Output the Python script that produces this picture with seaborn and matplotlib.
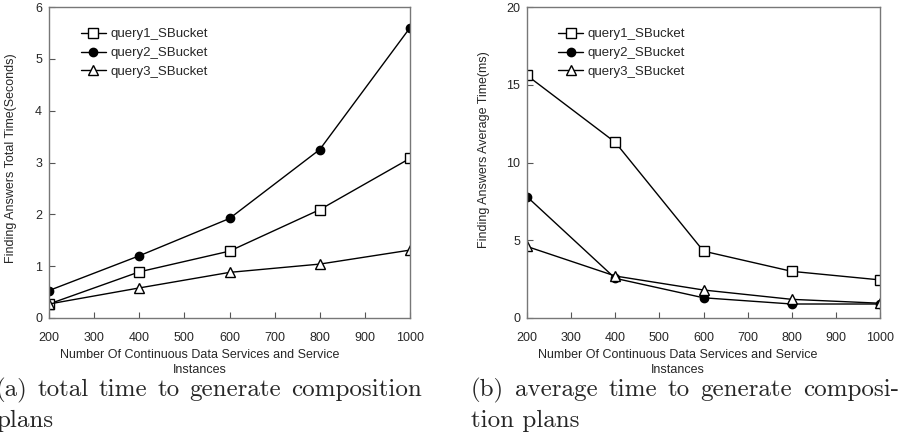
import matplotlib
matplotlib.use("Agg")
import matplotlib.pyplot as plt
import seaborn as sns
import pandas as pd

sns.set_theme(style="white")
plt.rcParams['font.family'] = ['Liberation Sans', 'DejaVu Sans']

x_vals = [200, 400, 600, 800, 1000]
series_names = ["query1_SBucket", "query2_SBucket", "query3_SBucket"]

total_q1 = [0.27, 0.89, 1.29, 2.09, 3.08]
total_q2 = [0.53, 1.20, 1.92, 3.25, 5.60]
total_q3 = [0.27, 0.58, 0.88, 1.04, 1.31]

avg_q1 = [15.6, 11.3, 4.3, 3.0, 2.45]
avg_q2 = [7.8, 2.55, 1.3, 0.9, 0.9]
avg_q3 = [4.6, 2.7, 1.8, 1.2, 0.95]

x_ticks = [200, 300, 400, 500, 600, 700, 800, 900, 1000]
left_yticks = [0, 1, 2, 3, 4, 5, 6]
right_yticks = [0, 5, 10, 15, 20]

xlabel = "Number Of Continuous Data Services and Service\nInstances"
left_ylabel = "Finding Answers Total Time(Seconds)"
right_ylabel = "Finding Answers Average Time(ms)"
cap_a = ["(a) total time to generate composition", "plans"]
cap_b = ["(b) average time to generate composi-", "tion plans"]

styles = [dict(marker="s", markerfacecolor="white", markeredgecolor="black", markersize=7),
          dict(marker="o", markerfacecolor="black", markeredgecolor="black", markersize=6),
          dict(marker="^", markerfacecolor="white", markeredgecolor="black", markersize=7)]

W, H = 901, 436
fig = plt.figure(figsize=(W / 100, H / 100), dpi=100)

def px_axes(x0, x1, y0, y1):
    return fig.add_axes([x0 / W, 1 - y1 / H, (x1 - x0) / W, (y1 - y0) / H])

ax1 = px_axes(49, 410, 7, 318)
ax2 = px_axes(527, 880, 7, 318)

def draw(ax, data, yticks, ylabel, xlab_center_px, ax_x0, ax_x1, ylab_px, ylab_y):
    for name, ys, st in zip(series_names, data, styles):
        df = pd.DataFrame({"x": x_vals, "y": ys})
        sns.lineplot(data=df, x="x", y="y", ax=ax, color="black", linewidth=1.0,
                     markeredgewidth=1.0, label=name, **st)
    ax.set_xlim(200, 1000)
    ax.set_ylim(yticks[0], yticks[-1])
    ax.set_xticks(x_ticks)
    ax.set_yticks(yticks)
    ax.tick_params(axis="both", direction="in", length=4, width=0.8, color="#555555",
                   labelsize=9, pad=5, bottom=True, left=True)
    ax.tick_params(axis="x", pad=10)
    for sp in ax.spines.values():
        sp.set_color("#777777")
        sp.set_linewidth(1.0)
    ax.set_xlabel(xlabel, fontsize=9, linespacing=1.35)
    ax.set_ylabel(ylabel, fontsize=9)
    ax.xaxis.set_label_coords((xlab_center_px - ax_x0) / (ax_x1 - ax_x0), -0.1)
    ax.yaxis.set_label_coords((ylab_px - ax_x0) / (ax_x1 - ax_x0), ylab_y)
    ax.xaxis.label.set_va("top")
    ax.legend(loc="upper left", bbox_to_anchor=(0.055, 0.97), frameon=False,
              fontsize=9.5, handlelength=1.9, labelspacing=0.5, handletextpad=0.35)

draw(ax1, [total_q1, total_q2, total_q3], left_yticks, left_ylabel, 200, 49, 410, 17, 0.514)
draw(ax2, [avg_q1, avg_q2, avg_q3], right_yticks, right_ylabel, 678, 527, 880, 490, 0.54)

# Captions (justified first line)
cap_font = dict(family=["cmr10", "DejaVu Serif"], fontsize=18)
fig.canvas.draw()
renderer = fig.canvas.get_renderer()

def justified(words_line, x0, x1, ypx):
    words = words_line.split(" ")
    texts = [fig.text(0, 0, w, ha="left", va="baseline", **cap_font) for w in words]
    widths = [t.get_window_extent(renderer).width for t in texts]
    gap = (x1 - x0 - sum(widths)) / (len(words) - 1)
    x = x0
    for t, w in zip(texts, widths):
        t.set_position((x / W, 1 - ypx / H))
        x += w + gap

def plain(line, x0, ypx):
    fig.text(x0 / W, 1 - ypx / H, line, ha="left", va="baseline", **cap_font)

justified(cap_a[0], -4, 422, 396)
plain(cap_a[1], -4, 427)
justified(cap_b[0], 471, 899, 396)
plain(cap_b[1], 471, 427)

fig.savefig("out.png", dpi=100)
